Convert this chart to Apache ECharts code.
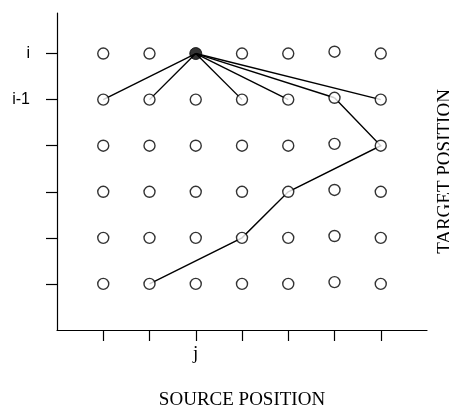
<!DOCTYPE html>
<html>
<head>
<meta charset="utf-8">
<script src="https://cdn.jsdelivr.net/npm/echarts@6/dist/echarts.min.js"></script>
<style>html,body{margin:0;padding:0;background:#fff}#c{width:449px;height:408px}</style>
</head>
<body>
<div id="c"></div>
<script>
// ---- data ----
const colX = [1, 2, 3, 4, 5, 6, 7];
const rowY = [1, 2, 3, 4, 5, 6];
const colLift = [0, 0, 0, 0, 0, 0.04, 0];          // small vertical offsets seen in the picture
const xTickLabels = ['', '', 'j', '', '', '', ''];
const yTickLabels = ['', '', '', '', 'i-1', 'i'];
const currentPoint = [3, 6];
const fanTargetCols = [1, 2, 4, 5, 6, 7];          // all in row 5
const fanRow = 5;
const pathPoints = [[6, 5], [7, 4], [5, 3], [4, 2], [2, 1]];

// ---- build ----
function yAt(col, row) { return row + colLift[colX.indexOf(col)]; }
const openPts = [];
colX.forEach(c => rowY.forEach(r => {
  if (!(c === currentPoint[0] && r === currentPoint[1])) openPts.push([c, yAt(c, r)]);
}));
const lineData = fanTargetCols.map(c => ({ coords: [currentPoint, [c, yAt(c, fanRow)]] }));
const pathLine = { coords: pathPoints.map(p => [p[0], yAt(p[0], p[1])]) };

const chart = echarts.init(document.getElementById('c'), null, { renderer: 'canvas' });
chart.setOption({
  animation: false,
  backgroundColor: '#fff',
  grid: { left: 57, right: 22, top: 13, bottom: 78, containLabel: false, outerBoundsMode: 'none' },
  xAxis: {
    type: 'value', min: 0, max: 8,
    axisLine: { show: true, lineStyle: { color: '#000', width: 1.2 } },
    axisTick: { show: true, length: 11, lineStyle: { color: '#000', width: 1.2 }, customValues: colX },
    axisLabel: { show: true, customValues: colX, margin: 15,
      formatter: v => xTickLabels[colX.indexOf(v)] || '',
      color: '#000', fontFamily: 'Liberation Serif', fontSize: 19 },
    splitLine: { show: false },
    name: 'SOURCE POSITION', nameLocation: 'middle', nameGap: 61,
    nameTextStyle: { color: '#000', fontFamily: 'Liberation Serif', fontSize: 19 }
  },
  yAxis: [{
    type: 'value', min: 0, max: 6.88,
    axisLine: { show: true, lineStyle: { color: '#000', width: 1.2 } },
    axisTick: { show: true, length: 11, lineStyle: { color: '#000', width: 1.2 }, customValues: rowY },
    axisLabel: { show: true, customValues: rowY, margin: 27,
      formatter: v => yTickLabels[rowY.indexOf(v)] || '',
      color: '#000', fontFamily: 'Liberation Sans', fontSize: 16 },
    splitLine: { show: false }
  }, {
    type: 'value', min: 0, max: 6.88, position: 'right',
    axisLine: { show: false }, axisTick: { show: false }, axisLabel: { show: false },
    splitLine: { show: false },
    name: 'TARGET POSITION', nameLocation: 'middle', nameGap: 9, nameRotate: 90,
    nameTextStyle: { color: '#000', fontFamily: 'Liberation Serif', fontSize: 19 }
  }],
  series: [
    { type: 'lines', coordinateSystem: 'cartesian2d', z: 1, silent: true,
      lineStyle: { color: '#000', width: 1.4, opacity: 1 }, data: lineData },
    { type: 'lines', coordinateSystem: 'cartesian2d', polyline: true, z: 1, silent: true,
      lineStyle: { color: '#000', width: 1.4, opacity: 1 }, data: [pathLine] },
    { type: 'scatter', z: 3, symbol: 'circle', symbolSize: 11,
      itemStyle: { color: '#fff', borderColor: '#000', borderWidth: 1.4 }, data: openPts },
    { type: 'scatter', z: 4, symbol: 'circle', symbolSize: 12,
      itemStyle: { color: '#000', borderColor: '#000', borderWidth: 1 }, data: [currentPoint] }
  ]
});
</script>
</body>
</html>
